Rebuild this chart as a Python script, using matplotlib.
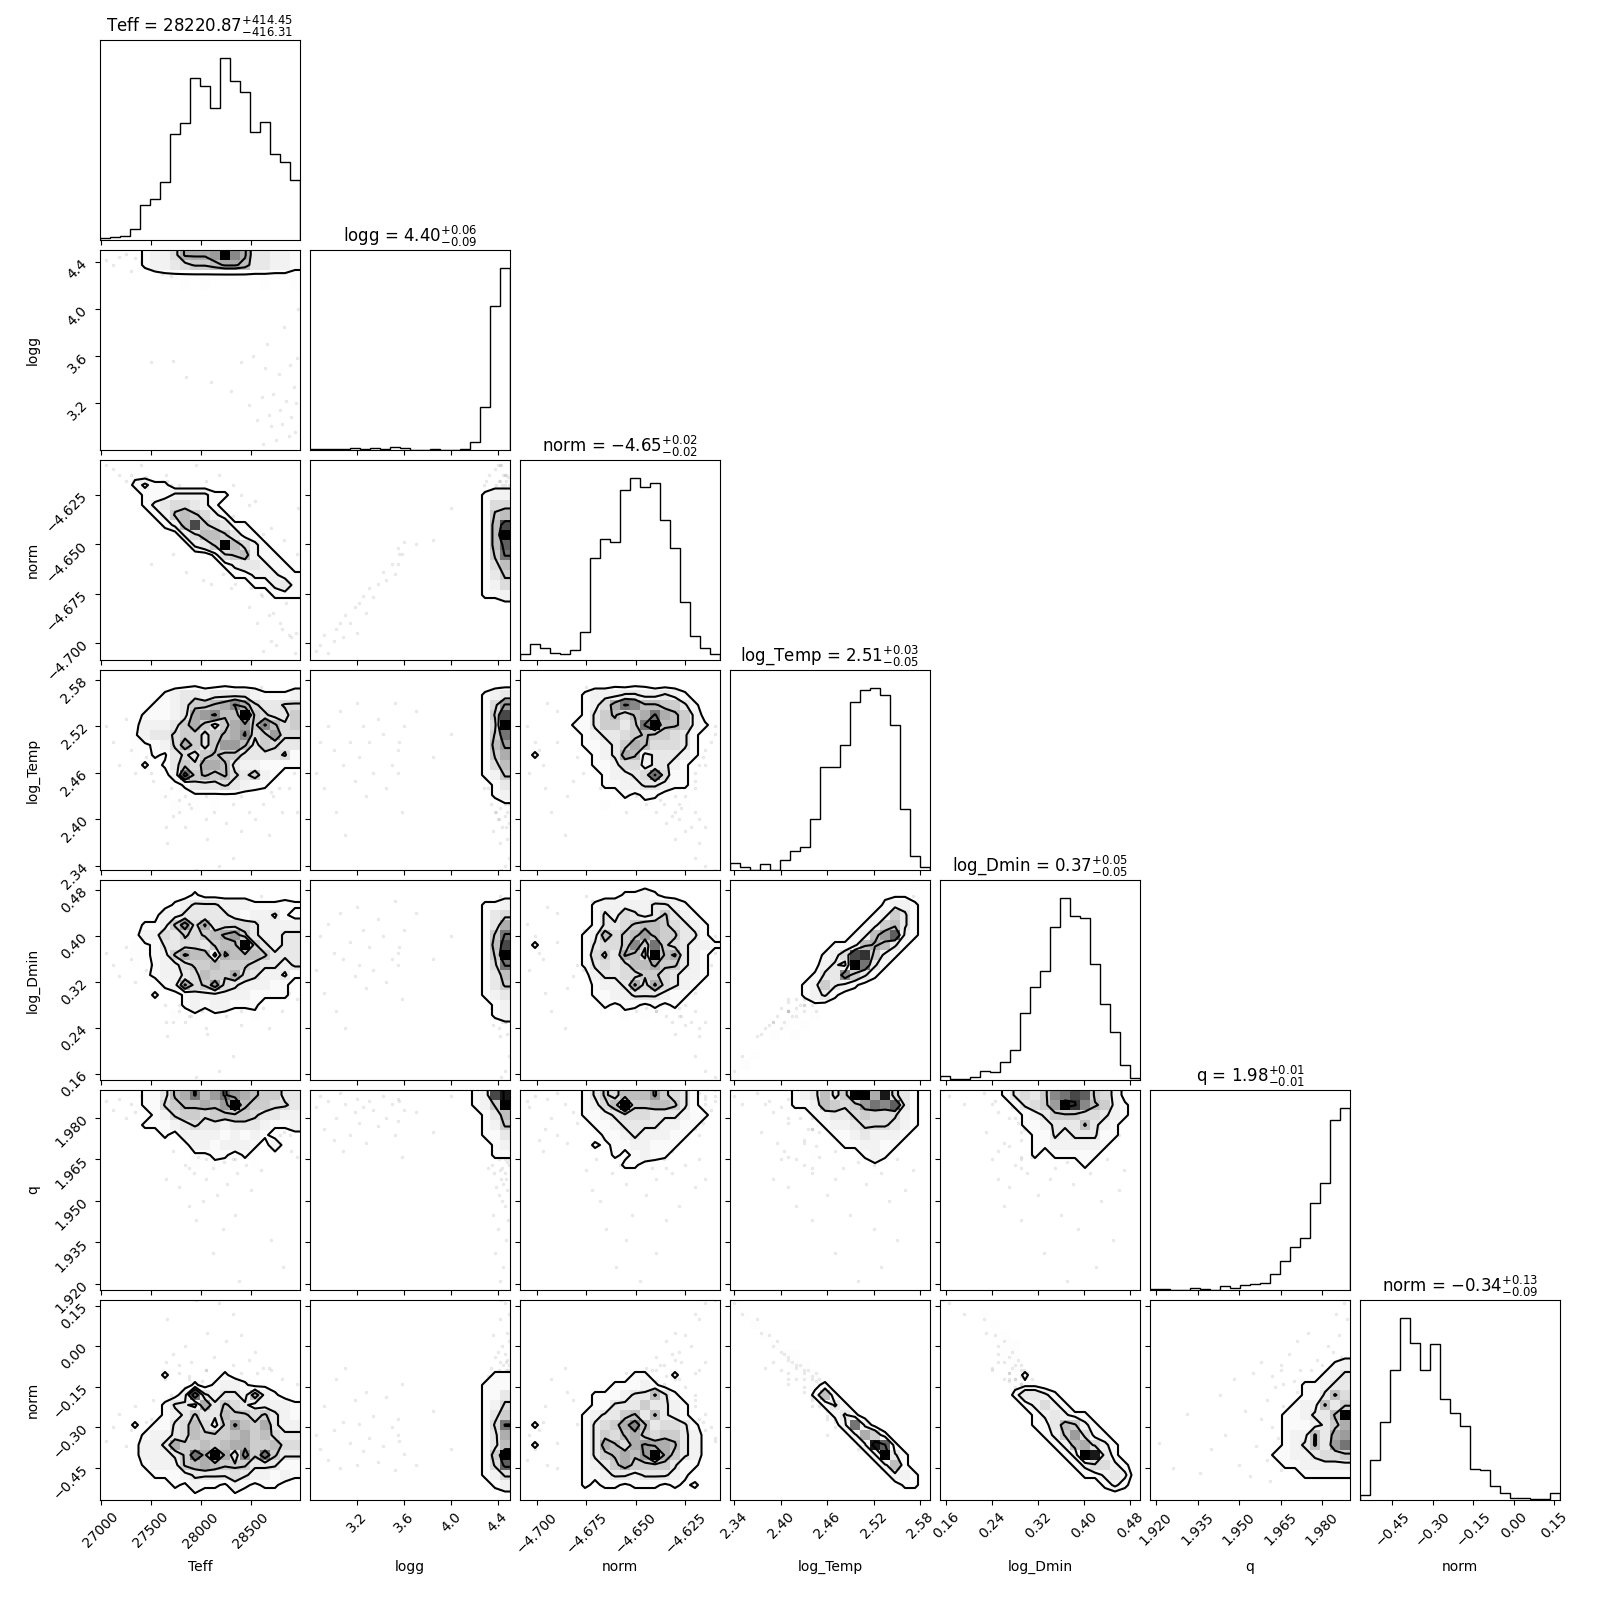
# -*- coding: utf-8 -*-
import numpy as np
import matplotlib
matplotlib.use('Agg')
import matplotlib.pyplot as plt
from matplotlib.colors import LinearSegmentedColormap
from matplotlib.ticker import ScalarFormatter

labels = ['Teff', 'logg', 'norm', 'log_Temp', 'log_Dmin', 'q', 'norm']
titles = ['Teff = $28220.87_{-416.31}^{+414.45}$', 'logg = $4.40_{-0.09}^{+0.06}$',
          'norm = $-4.65_{-0.02}^{+0.02}$', 'log_Temp = $2.51_{-0.05}^{+0.03}$',
          'log_Dmin = $0.37_{-0.05}^{+0.05}$', 'q = $1.98_{-0.01}^{+0.01}$',
          'norm = $-0.34_{-0.09}^{+0.13}$']
limits = [(26990, 28989), (2.798, 4.506), (-4.7086, -4.6075), (2.3348, 2.5925),
          (0.149, 0.4974), (1.9178, 1.9901), (-0.5698, 0.171)]
ticks = [[27000, 27500, 28000, 28500], [3.2, 3.6, 4.0, 4.4],
         [-4.700, -4.675, -4.650, -4.625], [2.34, 2.40, 2.46, 2.52, 2.58],
         [0.16, 0.24, 0.32, 0.40, 0.48], [1.920, 1.935, 1.950, 1.965, 1.980],
         [-0.45, -0.30, -0.15, 0.00, 0.15]]

# 1d histograms, 20 bins, read in pixels
hist_teff = [6, 9, 13, 32, 101, 119, 168, 307, 340, 470, 446, 382, 528, 461, 430, 313, 342, 249, 226, 173]
hist_logg = [2, 2, 4, 2, 6, 4, 5, 4, 8, 6, 1, 1, 2, 1, 1, 3, 24, 125, 418, 529]
hist_norm = [18, 49, 36, 21, 17, 30, 85, 307, 362, 354, 510, 546, 519, 532, 419, 336, 173, 72, 36, 18]
hist_temp = [21, 10, 1, 17, 1, 30, 58, 69, 153, 309, 309, 375, 505, 540, 546, 525, 435, 183, 42, 9]
hist_dmin = [10, 2, 2, 8, 23, 19, 43, 73, 163, 227, 266, 374, 444, 401, 396, 283, 185, 116, 36, 6]
hist_q = [3, 3, 1, 1, 6, 3, 1, 11, 6, 14, 17, 20, 45, 81, 120, 146, 244, 300, 476, 510]
hist_norm2 = [13, 112, 218, 366, 510, 440, 366, 437, 283, 244, 207, 87, 84, 39, 19, 6, 6, 2, 3, 20]
hists = [hist_teff, hist_logg, hist_norm, hist_temp, hist_dmin, hist_q, hist_norm2]

# 2d counts, hex digit per bin, ':' is a bin with next to nothing in it
# first string is the top row of the panel
h_logg_teff = ["....12247778f9733221",
               "....1223455677633221",
               "......::::::::::::::",
               "........:.:.....:..:"]
h_norm_teff = ["....................",
               "...:................",
               "...1211.............",
               "....111222211.......",
               "....12344321........",
               ".....12565421.......",
               "......126c54311.....",
               "........24665311....",
               ".........235f6421...",
               "...........1456211..",
               "............1233211.",
               ".............1122211",
               "...............11231",
               ".................111"]
h_norm_logg = ["....................", "....................", "....................",
               ".................122", ".................144", ".................156",
               ".................16c", ".................16f", ".................16b",
               ".................15a", ".................146", ".................135",
               ".................124", ".................112"]
h_temp_teff = ["....................",
               ".........:..:.......",
               "......12332333321112",
               ".....112355679743344",
               "....1112378966f54335",
               "....2223575357859645",
               "...:2334553567945844",
               "...::124753588635433",
               "...:.1:3435655333341",
               "....1.13547763221111",
               ".......2a565643521..",
               "........133343211...",
               "......:..:::::.:....",
               ".......:.:.:........"]
h_temp_logg = ["....................", "....................", ".................123",
               ".................148", ".................15c", ".................14f",
               ".................15a", ".................168", ".................157",
               ".................146", ".................125", "..................13",
               "..................12", "...................:"]
h_temp_norm = ["....................",
               ".........:.::.......",
               "......12223322321...",
               "......1247a9665531..",
               "......1356467a7652..",
               ".....1135535af66521.",
               "......123345655431..",
               "......112357644431..",
               ".1.....12376233321..",
               ".......1124423321...",
               "........12234a411...",
               "........112233211...",
               "..........1:11......",
               "........:...:...:..."]
h_dmin_teff = ["....................",
               ".........1........:.",
               ".......1233322211111",
               "......2233333212231.",
               "....1125847344432222",
               "....2243545678532233",
               "...::133443566f53233",
               "...::125766276665333",
               "...:.122455655543323",
               "....:122346557432231",
               "......1274584322211.",
               ".....1..12222221111.",
               "........12122111....",
               ".......:.:.:...:...."]
h_dmin_logg = ["....................", "....................", ".................112",
               ".................134", ".................137", ".................15a",
               ".................16c", ".................15f", ".................14a",
               ".................136", ".................135", ".................123",
               "..................12", "..................12"]
h_dmin_norm = ["....................",
               "..........1121......",
               ".......1222223321...",
               ".......13243235321..",
               ".......133456654321.",
               "......1264568655331.",
               ".1....1344595a543221",
               "......1453764f67321.",
               "......1343466755321.",
               ".......233445543221.",
               ".......12237474321..",
               ".......1122333211...",
               "........1:11:1:1....",
               "..........:.:......."]
h_dmin_temp = ["..................:.",
               "...............:::..",
               "...............1221.",
               "..............12531.",
               ".............125631.",
               "............1268b21.",
               "..........11267631..",
               ".........124cd521...",
               ".........232fa31....",
               "........1339531.....",
               ".......125321.......",
               ".......1231.........",
               "........:...........",
               "......:.:...........",
               ".....:.:............",
               "....:.:.............",
               "....................",
               "..:.................",
               ".:..................",
               ":..................."]
h_q_teff = ["....11367a68a8765533",
            "....114566768f655443",
            ".....124554555543322",
            "....1112343323332112",
            "......1.222212121...",
            ".........2212221.2..",
            ".........::11.1.....",
            ".........:.:.:.:...."]
h_q_logg = ["................12ce",
            "................125f",
            ".................136",
            ".................125",
            ".................113",
            "..................12",
            "..................11"]
h_q_norm = ["......135466685431..",
            "......1246f5566531..",
            "......1123444333211.",
            ".......11233332211..",
            "........112322211...",
            ".......1:1122111....",
            ".........1:1211.....",
            "..........11.:......"]
h_q_temp = ["......123635ff7e431.",
            "......11265458a9b31.",
            "........12334544421.",
            ".........1223444321.",
            "..........11232221..",
            "...........112211...",
            "........:....121....",
            "..............:....."]
h_q_dmin = ["......134359acb542..",
            ".......13458fd96521.",
            "........12355544321.",
            "........1123336321..",
            ".........113233311..",
            ".........11222221...",
            ".........1.11111....",
            "..............1....."]
h_n2_teff = ["....................", "....................", "....................",
             "....................", "....................", "....................",
             "....................",
             "......1.....1.......",
             ".........1.1221.:...",
             "........2a32332621..",
             "......13327354322221",
             "......12353365545321",
             "...1.113464258657322",
             "....1223465556756433",
             "....2237556567755644",
             "....22235a7f7395a533",
             "....1222567655533311",
             ".....111233334322121",
             ".......1:211:21:11..",
             ".........:...:......"]
h_n2_logg = ["....................", "....................", "....................",
             "....................", "....................", "....................",
             "....................",
             "..................11", ".................111", ".................113",
             ".................124", ".................135", ".................14a",
             ".................137", ".................136", ".................15f",
             ".................14b", ".................124", "..................12"]
h_n2_norm = ["....................", "....................", "....................",
             "....................", "....................", "....................",
             "....................",
             "...........11..1....",
             ".........11121......",
             ".......111233631....",
             ".......1133353321...",
             "......12335636321...",
             ".1....134579634431..",
             "......135467545532..",
             ".1....137647877632..",
             "......1356768f7532..",
             "......123575555311..",
             "......11233233321...",
             "......1:11:111:1:1.."]
h_n2_temp = [":...................", ".:..................", "..:.................",
             "...:................", "....:...............", ".....::.............",
             "......::............", ".......::...........",
             "........:1..........",
             "........161.........",
             ".........131........",
             "..........131.......",
             "...........2a2......",
             "............2751....",
             ".............2eb1...",
             "..............2f31..",
             "...............261..",
             "................221.",
             ".................11."]
h_n2_dmin = ["....................", "....:...............", ".....:..............",
             "......:.............", "......::............", "......::............",
             ".......:............",
             "........1...........",
             ".......:::..........",
             ".......13321........",
             "........12421.......",
             ".........123211.....",
             ".........1136521....",
             "..........1258411...",
             "...........1267421..",
             "............12fe31..",
             ".............124421.",
             "..............11232.",
             "................121."]
h_n2_q = ["....................", "....................", "....................",
          "....................", "....................", "....................",
          "..................12",
          ".................123",
          "...............11233",
          "...............11364",
          "..............122635",
          ".............112336f",
          ".............1112357",
          ".............1226378",
          ".............123638a",
          "............11223445",
          ".............1122222",
          "...............11111"]
grids = {(1, 0): h_logg_teff, (2, 0): h_norm_teff, (2, 1): h_norm_logg,
         (3, 0): h_temp_teff, (3, 1): h_temp_logg, (3, 2): h_temp_norm,
         (4, 0): h_dmin_teff, (4, 1): h_dmin_logg, (4, 2): h_dmin_norm, (4, 3): h_dmin_temp,
         (5, 0): h_q_teff, (5, 1): h_q_logg, (5, 2): h_q_norm, (5, 3): h_q_temp, (5, 4): h_q_dmin,
         (6, 0): h_n2_teff, (6, 1): h_n2_logg, (6, 2): h_n2_norm, (6, 3): h_n2_temp,
         (6, 4): h_n2_dmin, (6, 5): h_n2_q}

# the faint samples that lie outside the contours, one column per parameter
s_teff = [28620, 28750, 28880, 28940, 28700, 28810, 28560, 28900, 28680, 28790, 28480, 28950, 28850, 28610, 28720,
          28300, 28930, 28100, 27850, 28780, 28640, 28890, 28400, 28960, 28520, 27500, 27720, 28660, 28830, 28970,
          27950, 28180, 28320, 27660, 28060, 28400, 27840, 28250, 28540, 27720, 28130, 28480, 27900, 28320, 28620,
          27780, 28050, 28400, 28700, 27880, 28210, 28560, 28010, 28340, 27950,
          28380, 28820, 28120, 28700, 28220, 27950, 28340, 27880, 28020, 28160, 28500, 27780, 28260, 28050, 27650,
          28360, 27930, 28600, 28120, 27840, 28450, 28230, 28050, 28340, 27970,
          27050, 27120, 27180, 27250, 27300, 27340, 27400, 27450, 27480, 27520, 27560, 27610, 27640, 27680, 27700]
s_logg = [2.85, 2.88, 2.92, 2.95, 3.0, 3.02, 3.05, 3.08, 3.1, 3.14, 3.18, 3.2, 3.22, 3.25, 3.28,
          3.3, 3.34, 3.38, 3.42, 3.45, 3.5, 3.52, 3.55, 3.58, 3.6, 3.55, 3.56, 3.7, 3.85, 4.0,
          4.43, 4.46, 4.5, 4.42, 4.48, 4.36, 4.44, 4.5, 4.4, 4.46, 4.38, 4.48, 4.42, 4.5, 4.34,
          4.45, 4.47, 4.4, 4.49, 4.32, 4.46, 4.43, 4.5, 4.38, 4.44,
          4.42, 4.45, 4.38, 4.47, 4.4, 4.49, 4.36, 4.46, 4.44, 4.41, 4.48, 4.39, 4.45, 4.43, 4.47,
          4.37, 4.46, 4.42, 4.44, 4.5, 4.35, 4.48, 4.41, 4.46, 4.43,
          4.42, 4.38, 4.45, 4.47, 4.33, 4.44, 4.4, 4.49, 4.36, 4.46, 4.43, 4.3, 4.47, 4.41, 4.28]
s_norm = [-4.704, -4.701, -4.696, -4.705, -4.699, -4.693, -4.69, -4.697, -4.686, -4.69, -4.682, -4.695, -4.68, -4.676, -4.685,
          -4.672, -4.677, -4.67, -4.664, -4.668, -4.66, -4.665, -4.652, -4.655, -4.649, -4.66, -4.655, -4.65, -4.648, -4.632,
          -4.61, -4.615, -4.62, -4.618, -4.63, -4.625, -4.622, -4.635, -4.628, -4.632, -4.64, -4.63, -4.627, -4.636, -4.645,
          -4.638, -4.64, -4.65, -4.642, -4.635, -4.648, -4.655, -4.64, -4.652, -4.636,
          -4.648, -4.66, -4.64, -4.655, -4.665, -4.635, -4.652, -4.628, -4.668, -4.645, -4.672, -4.62, -4.655, -4.64, -4.615,
          -4.662, -4.632, -4.675, -4.642, -4.625, -4.658, -4.648, -4.618, -4.67, -4.636,
          -4.61, -4.612, -4.615, -4.618, -4.615, -4.62, -4.61, -4.616, -4.622, -4.62, -4.625, -4.618, -4.63, -4.625, -4.62]
s_temp = [2.46, 2.5, 2.44, 2.52, 2.49, 2.41, 2.54, 2.47, 2.38, 2.5, 2.45, 2.55, 2.48, 2.52, 2.43,
          2.5, 2.46, 2.53, 2.51, 2.44, 2.47, 2.55, 2.49, 2.41, 2.52, 2.46, 2.5, 2.54, 2.48, 2.51,
          2.335, 2.34, 2.35, 2.37, 2.375, 2.385, 2.39, 2.395, 2.40, 2.405, 2.41, 2.41, 2.415, 2.42, 2.42,
          2.425, 2.43, 2.43, 2.435, 2.44, 2.44, 2.445, 2.445, 2.45, 2.45,
          2.50, 2.53, 2.47, 2.55, 2.52, 2.44, 2.49, 2.42, 2.54, 2.46, 2.56, 2.41, 2.51, 2.47, 2.39,
          2.53, 2.44, 2.57, 2.48, 2.43, 2.52, 2.5, 2.4, 2.55, 2.45,
          2.52, 2.5, 2.47, 2.53, 2.49, 2.46, 2.51, 2.48, 2.54, 2.45, 2.5, 2.47, 2.43, 2.52, 2.44]
s_dmin = [.34, .4, .3, .42, .37, .27, .44, .36, .24, .39, .33, .45, .35, .41, .31,
          .38, .34, .43, .4, .32, .36, .46, .37, .29, .41, .35, .38, .44, .36, .4,
          .155, .165, .19, .225, .23, .245, .25, .26, .275, .25, .27, .285, .26, .29, .275,
          .28, .29, .27, .295, .29, .28, .30, .27, .31, .29,
          .37, .42, .33, .45, .39, .29, .36, .26, .43, .32, .46, .27, .38, .34, .25,
          .41, .3, .47, .35, .28, .4, .37, .24, .44, .31,
          .37, .35, .33, .38, .36, .32, .4, .34, .41, .3, .39, .33, .28, .4, .31]
s_q = [1.984, 1.988, 1.976, 1.986, 1.972, 1.98, 1.989, 1.968, 1.985, 1.974, 1.982, 1.987, 1.978, 1.984, 1.971,
       1.986, 1.983, 1.977, 1.988, 1.98, 1.985, 1.974, 1.987, 1.966, 1.983, 1.979, 1.986, 1.982, 1.975, 1.988,
       1.99, 1.988, 1.985, 1.989, 1.975, 1.986, 1.982, 1.971, 1.984, 1.968, 1.987, 1.978, 1.989, 1.965, 1.985,
       1.98, 1.972, 1.988, 1.976, 1.962, 1.984, 1.988, 1.97, 1.982, 1.975,
       1.921, 1.926, 1.931, 1.936, 1.94, 1.943, 1.945, 1.948, 1.95, 1.952, 1.954, 1.955, 1.956, 1.958, 1.958,
       1.96, 1.96, 1.961, 1.962, 1.963, 1.963, 1.964, 1.965, 1.965, 1.966,
       1.986, 1.983, 1.987, 1.98, 1.985, 1.982, 1.988, 1.978, 1.984, 1.986, 1.981, 1.974, 1.987, 1.983, 1.976]
s_norm2 = [-.33, -.38, -.22, -.42, -.31, -.12, -.45, -.28, -.08, -.36, -.2, -.44, -.29, -.39, -.17,
           -.34, -.26, -.43, -.37, -.19, -.3, -.46, -.33, -.14, -.4, -.27, -.35, -.44, -.24, -.38,
           .17, .16, .12, .1, .05, .04, .0, .02, -.02, -.03, -.04, -.05, -.06, -.07, -.08,
           -.07, -.09, -.1, -.09, -.11, -.12, -.1, -.13, -.12, -.14,
           -.36, -.45, -.25, -.47, -.38, -.18, -.33, -.12, -.44, -.24, -.48, -.1, -.37, -.27, -.06,
           -.42, -.2, -.5, -.3, -.15, -.4, -.34, -.09, -.46, -.22,
           -.35, -.3, -.25, -.37, -.31, -.22, -.34, -.28, -.4, -.2, -.36, -.27, -.12, -.38, -.18]
samples = [s_teff, s_logg, s_norm, s_temp, s_dmin, s_q, s_norm2]


def read_grid(rows):
    H = np.zeros((20, 20))
    for r, row in enumerate(rows):
        for c, ch in enumerate(row[:20]):
            if ch == ':':
                H[r, c] = 0.4
            elif ch != '.':
                H[r, c] = int(ch, 16)
    return H[::-1]


def contour_levels(H):
    lv = 1.0 - np.exp(-0.5 * np.arange(0.5, 2.1, 0.5) ** 2)
    flat = np.sort(H.flatten())[::-1]
    sm = np.cumsum(flat)
    sm = sm / sm[-1]
    V = []
    for v0 in lv:
        under = flat[sm <= v0]
        V.append(under[-1] if len(under) else flat[0])
    V = np.array(sorted(V), dtype=float) - 0.3
    # the outer line takes in every bin with a real count
    V[0] = 0.7
    for i in range(1, len(V)):
        if V[i] <= V[i - 1]:
            V[i] = V[i - 1] + 0.5
    return V


def pad_grid(H, xe, ye):
    xc = 0.5 * (xe[1:] + xe[:-1])
    yc = 0.5 * (ye[1:] + ye[:-1])
    dx = xc[1] - xc[0]
    dy = yc[1] - yc[0]
    H2 = np.zeros((24, 24))
    H2[2:-2, 2:-2] = H
    H2[2:-2, 1] = H[:, 0]
    H2[2:-2, -2] = H[:, -1]
    H2[1, 2:-2] = H[0]
    H2[-2, 2:-2] = H[-1]
    X2 = np.concatenate([xc[0] + np.array([-2, -1]) * dx, xc, xc[-1] + np.array([1, 2]) * dx])
    Y2 = np.concatenate([yc[0] + np.array([-2, -1]) * dy, yc, yc[-1] + np.array([1, 2]) * dy])
    return X2, Y2, H2


density_cmap = LinearSegmentedColormap.from_list('density_cmap', [(1, 1, 1, 0), (0, 0, 0, 1)])

K = len(labels)
fig, axes = plt.subplots(K, K, figsize=(16, 16), dpi=100)
lb = 1.0 / 16
tr = 15.6 / 16
fig.subplots_adjust(left=lb, bottom=lb, right=tr, top=tr, wspace=0.05, hspace=0.05)


def fmt_axis(axis):
    f = ScalarFormatter(useOffset=False)
    axis.set_major_formatter(f)


for i in range(K):
    for j in range(K):
        ax = axes[i, j]
        if j > i:
            ax.set_frame_on(False)
            ax.set_xticks([])
            ax.set_yticks([])
            continue
        xe = np.linspace(limits[j][0], limits[j][1], 21)
        if i == j:
            ax.hist(xe[:-1], bins=xe, weights=hists[i], histtype='step', color='k')
            ax.set_ylim(0, 1.1 * max(hists[i]))
            ax.set_yticks([])
            ax.set_title(titles[i])
        else:
            ye = np.linspace(limits[i][0], limits[i][1], 21)
            H = read_grid(grids[(i, j)])
            V = contour_levels(H)
            X2, Y2, H2 = pad_grid(H, xe, ye)
            ax.plot(samples[j], samples[i], 'o', ms=2, color='k', alpha=0.07, mew=0.5, zorder=-1)
            ax.contourf(X2, Y2, H2, [V.min(), H.max() + 1], colors=[(1, 1, 1, 1)], antialiased=False)
            ax.pcolor(xe, ye, (H / H.max()) ** 0.75, cmap=density_cmap, vmin=0, vmax=1)
            ax.contour(X2, Y2, H2, V, colors='k', linewidths=1.5)
            ax.set_ylim(limits[i])
            ax.set_yticks(ticks[i])
            fmt_axis(ax.yaxis)
            if j == 0:
                for l in ax.get_yticklabels():
                    l.set_rotation(45)
                ax.set_ylabel(labels[i])
                ax.yaxis.set_label_coords(-0.3, 0.5)
            else:
                ax.set_yticklabels([])
        ax.set_xlim(limits[j])
        ax.set_xticks(ticks[j])
        fmt_axis(ax.xaxis)
        if i == K - 1:
            for l in ax.get_xticklabels():
                l.set_rotation(45)
            ax.set_xlabel(labels[j])
            ax.xaxis.set_label_coords(0.5, -0.3)
        else:
            ax.set_xticklabels([])

fig.savefig('out.png', dpi=100)
